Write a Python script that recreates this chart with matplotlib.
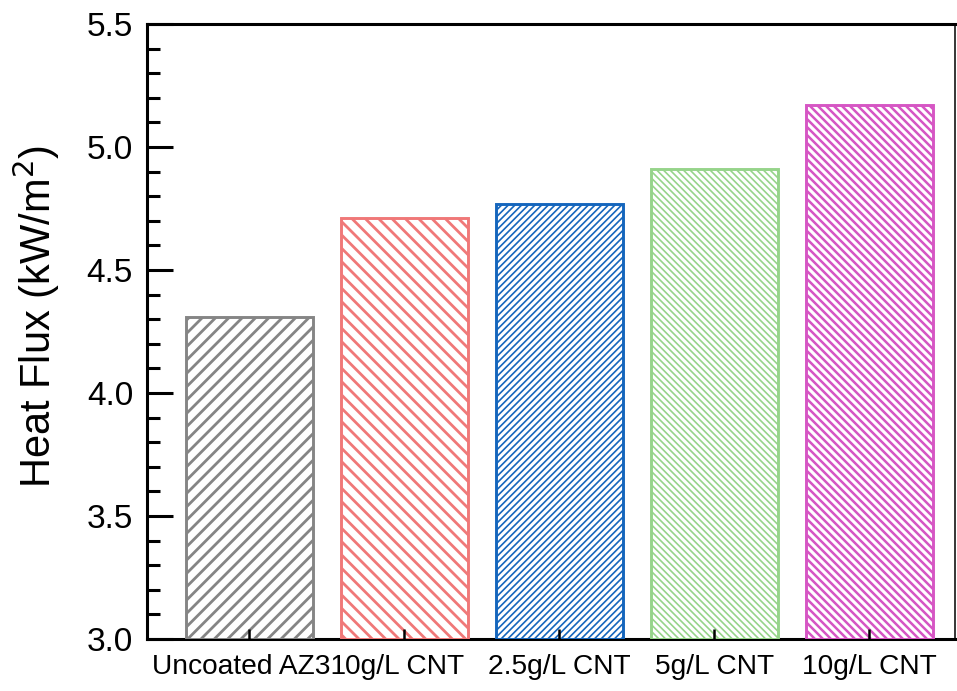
import matplotlib
matplotlib.use('Agg')
import matplotlib.pyplot as plt
from matplotlib.ticker import MultipleLocator, FormatStrFormatter

plt.rcParams['font.family'] = ['Liberation Sans', 'DejaVu Sans']

# Samples and measured heat flux (kW/m2)
samples = ['Uncoated AZ31', '0g/L CNT', '2.5g/L CNT', '5g/L CNT', '10g/L CNT']
heat_flux = [4.31, 4.71, 4.77, 4.91, 5.17]
colors = ['#858585', '#f07878', '#1566bd', '#96d48a', '#d656c4']
hatches = ['///', '\\\\\\', '//////', '\\\\\\\\\\\\', '\\\\\\\\\\']
hatch_widths = [2.0, 2.0, 1.2, 1.2, 1.8]

# hatch spacing follows the dpi, so sizes below are given for 100 dpi and scaled
DPI = 120
S = 100 / DPI

fig = plt.figure(figsize=(957 / DPI, 691 / DPI), dpi=DPI)
ax = fig.add_axes([0.1536, 0.0753, 0.8444, 0.89])

x = list(range(len(samples)))
for i in x:
    plt.rcParams['hatch.linewidth'] = hatch_widths[i] * S
    bar = ax.bar(i, heat_flux[i] - 3.0, bottom=3.0, width=0.82, color='white',
                 edgecolor=colors[i], hatch=hatches[i], linewidth=2.1 * S, zorder=2)
    for p in bar.patches:
        if hasattr(p, 'set_hatch_linewidth'):
            p.set_hatch_linewidth(hatch_widths[i] * S)

ax.set_axisbelow(False)
ax.set_xlim(-0.661, 4.555)
ax.set_ylim(3.0, 5.5)
ax.yaxis.set_major_locator(MultipleLocator(0.5))
ax.yaxis.set_minor_locator(MultipleLocator(0.1))
ax.yaxis.set_major_formatter(FormatStrFormatter('%.1f'))

ax.set_xticks(x)
ax.set_xticklabels(samples, fontsize=20.3 * S)
ax.tick_params(axis='x', direction='in', length=7.3 * S, width=1.8 * S, pad=10.5 * S)
ax.tick_params(axis='y', which='major', direction='in', length=18.8 * S,
               width=2.2 * S, labelsize=24 * S, pad=10 * S)
ax.tick_params(axis='y', which='minor', direction='in', length=9.4 * S, width=2.2 * S)
ax.tick_params(top=False, right=False)

for side in ['left', 'bottom', 'top']:
    ax.spines[side].set_linewidth(2.2 * S)
ax.spines['right'].set_linewidth(1.1 * S)
for sp in ax.spines.values():
    sp.set_zorder(1)

ax.set_ylabel('Heat Flux (kW/m$^2$)', fontsize=30 * S)
ax.yaxis.set_label_coords(-0.105, 0.524)

fig.savefig('out.png', dpi=DPI)
